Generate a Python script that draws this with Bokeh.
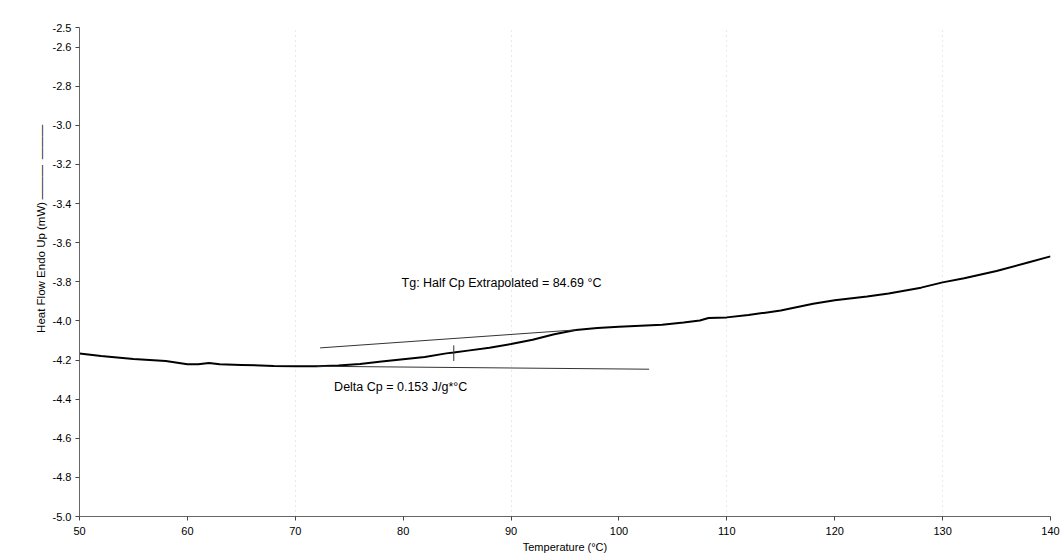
import math
from bokeh.plotting import figure
from bokeh.models import FixedTicker, PrintfTickFormatter, Label, Range1d
from bokeh.embed import file_html
from bokeh.resources import INLINE

# ---- data ----
temperature = [50, 52, 55, 58, 60, 61, 62, 63, 65, 68, 70, 72, 74, 76, 78, 80,
               82, 84, 84.69, 86, 88, 90, 92, 94, 96, 98, 100, 102, 104, 106,
               107.5, 108.3, 110, 112, 115, 118, 120, 123, 125, 128, 130, 132,
               135, 138, 140]
heat_flow = [-4.167, -4.180, -4.195, -4.205, -4.222, -4.222, -4.215, -4.222,
             -4.225, -4.230, -4.232, -4.232, -4.228, -4.220, -4.208, -4.196,
             -4.184, -4.166, -4.162, -4.152, -4.137, -4.118, -4.096, -4.068,
             -4.047, -4.036, -4.030, -4.025, -4.020, -4.008, -3.998, -3.985,
             -3.982, -3.970, -3.947, -3.912, -3.895, -3.875, -3.860, -3.830,
             -3.803, -3.782, -3.745, -3.700, -3.670]

onset_temp = [72.3, 96.0]
onset_hf = [-4.138, -4.046]
base_temp = [72.0, 102.8]
base_hf = [-4.232, -4.247]
tg_temp = 84.69
tg_mark_hf = [-4.125, -4.205]

x_ticks = [50, 60, 70, 80, 90, 100, 110, 120, 130, 140]
y_ticks = [-2.5, -2.6, -2.8, -3.0, -3.2, -3.4, -3.6, -3.8, -4.0, -4.2, -4.4,
           -4.6, -4.8, -5.0]
grid_temps = [70, 90, 110, 130]

x_title = "Temperature (\u00b0C)"
y_title = "Heat Flow Endo Up (mW)"
tg_text = "Tg: Half Cp Extrapolated = 84.69 \u00b0C"
dcp_text = "Delta Cp = 0.153 J/g*\u00b0C"

FONT = "Liberation Sans"

p = figure(frame_width=971, frame_height=489,
           x_range=Range1d(50, 140), y_range=Range1d(-5.0, -2.5),
           output_backend="svg", toolbar_location=None,
           min_border_left=79, min_border_top=27, min_border_right=10,
           min_border_bottom=30, background_fill_color="white",
           border_fill_color="white", outline_line_color=None)

# axes
p.xaxis.ticker = FixedTicker(ticks=x_ticks)
p.yaxis.ticker = FixedTicker(ticks=y_ticks)
p.xaxis.formatter = PrintfTickFormatter(format="%d")
p.yaxis.formatter = PrintfTickFormatter(format="%.1f")
p.xaxis.minor_tick_line_color = None
p.yaxis.minor_tick_line_color = None
for ax in (p.xaxis, p.yaxis):
    ax.axis_line_color = "#666666"
    ax.major_tick_line_color = "#444444"
    ax.major_tick_in = 0
    ax.major_tick_out = 4
    ax.major_label_text_font = FONT
    ax.major_label_text_font_size = "11px"
    ax.major_label_text_color = "black"
    ax.axis_label_text_font = FONT
    ax.axis_label_text_font_style = "normal"
    ax.axis_label_text_color = "black"

p.xaxis.axis_label = x_title
p.xaxis.axis_label_text_font_size = "11px"
p.xaxis.axis_label_standoff = 3
p.xaxis.major_label_standoff = 6

# y title followed by its legend line (solid + faint part), padded so that
# the words sit where the reference puts them
pad = "\u00a0" * 27
p.yaxis.axis_label = pad + y_title + "\u2009" + "\u2014\u2014\u2014" + "\u2002" + "\u2014\u2014\u2014"
p.yaxis.axis_label_text_font_size = "11.5px"
p.yaxis.axis_label_standoff = 3
p.yaxis.major_label_standoff = 4

# faint dotted vertical grid
p.ygrid.grid_line_color = None
p.xgrid.ticker = FixedTicker(ticks=grid_temps)
p.xgrid.grid_line_color = "#aaaaaa"
p.xgrid.grid_line_dash = "1 4"
p.xgrid.grid_line_alpha = 0.5

# curve
p.line(temperature, heat_flow, line_color="black", line_width=2)
# tangent / baseline construction lines
p.line(onset_temp, onset_hf, line_color="#333333", line_width=1)
p.line(base_temp, base_hf, line_color="#333333", line_width=1)
p.line([tg_temp, tg_temp], tg_mark_hf, line_color="#333333", line_width=1)

p.add_layout(Label(x=79.85, y=-3.804, text=tg_text, text_font=FONT,
                   text_font_size="12.5px", text_color="black",
                   text_baseline="middle", text_align="left"))
p.add_layout(Label(x=73.6, y=-4.34, text=dcp_text, text_font=FONT,
                   text_font_size="12.5px", text_color="black",
                   text_baseline="middle", text_align="left"))

open("out.html", "w").write(file_html(p, INLINE))
